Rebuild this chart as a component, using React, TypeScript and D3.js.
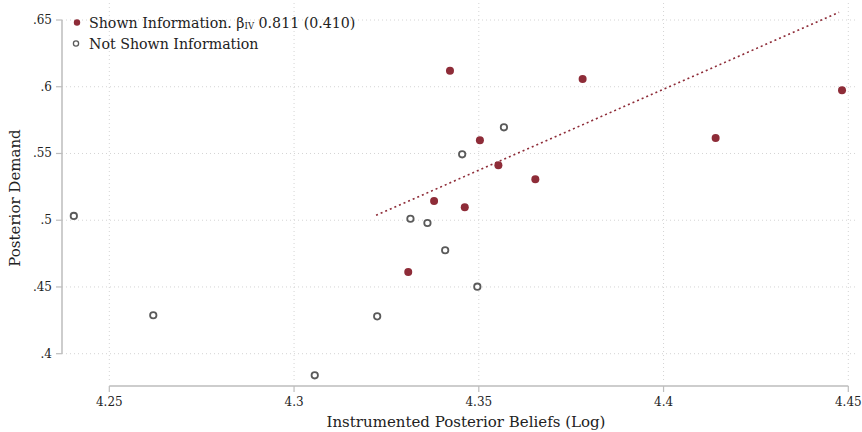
import React from 'react'
import * as d3 from 'd3'

// shown information group (x = log beliefs, y = demand)
const shownX = [4.3422, 4.3503, 4.3553, 4.3653, 4.3379, 4.3462, 4.3309, 4.3781, 4.4141, 4.4483]
const shownY = [0.612, 0.5599, 0.5411, 0.5307, 0.5144, 0.5097, 0.4612, 0.6058, 0.5616, 0.5973]

// not shown information group
const notShownX = [4.3568, 4.3455, 4.3315, 4.3361, 4.3409, 4.3496, 4.2619, 4.3225, 4.3056, 4.2404]
const notShownY = [0.5696, 0.5494, 0.5011, 0.4979, 0.4775, 0.4502, 0.4288, 0.428, 0.3838, 0.5032]

// fitted line endpoints
const fitX = [4.3222, 4.4475]
const fitY = [0.5037, 0.6558]

const xTicks = [4.25, 4.3, 4.35, 4.4, 4.45]
const yTicks = [0.4, 0.45, 0.5, 0.55, 0.6, 0.65]

const RED = '#8e2c38'
const GREY = '#5a5a5a'
const FONT = '"DejaVu Serif", "Liberation Serif", serif'

export default function App() {
  const width = 862,
    height = 432

  const x = d3.scaleLinear().domain([4.25, 4.45]).range([109.3, 848.3])
  const y = d3.scaleLinear().domain([0.4, 0.65]).range([353.7, 20])

  const plotLeft = 62,
    plotRight = 856,
    plotTop = 3,
    plotBottom = 382,
    axisY = 386

  const fmtY = (d: number) => d3.format('.2~f')(d).replace(/^0/, '')

  const line = d3
    .line<number>()
    .x(d => x(d))
    .y((d, i) => y(fitY[i]))

  return (
    <svg
      width={width}
      height={height}
      style={{ position: 'absolute', left: 0, top: 0 }}
      fontFamily={FONT}
    >
      <rect width={width} height={height} fill="#fff" />

      {/* grid */}
      {yTicks.map(d => (
        <line
          key={'gy' + d}
          x1={plotLeft}
          x2={plotRight}
          y1={y(d)}
          y2={y(d)}
          stroke="#d4d4d4"
          strokeWidth={1}
          strokeDasharray="1 3"
        />
      ))}
      {xTicks.map(d => (
        <line
          key={'gx' + d}
          x1={x(d)}
          x2={x(d)}
          y1={plotTop}
          y2={plotBottom}
          stroke="#d4d4d4"
          strokeWidth={1}
          strokeDasharray="1 3"
        />
      ))}

      {/* y axis */}
      <line x1={plotLeft} x2={plotLeft} y1={y(0.4)} y2={y(0.65)} stroke="#bdbdbd" strokeWidth={1.5} />
      {yTicks.map(d => (
        <g key={'yt' + d} transform={`translate(${plotLeft}, ${y(d)})`}>
          <line x1={-6} x2={0} stroke="#bdbdbd" strokeWidth={1.2} />
          <text x={-10} y={4} textAnchor="end" fontSize={12} fill="#222">
            {fmtY(d)}
          </text>
        </g>
      ))}

      {/* x axis */}
      <line x1={x(4.25)} x2={x(4.45)} y1={axisY} y2={axisY} stroke="#bdbdbd" strokeWidth={1.5} />
      {xTicks.map(d => (
        <g key={'xt' + d} transform={`translate(${x(d)}, ${axisY})`}>
          <line y1={0} y2={6} stroke="#bdbdbd" strokeWidth={1.2} />
          <text y={20} textAnchor="middle" fontSize={12} fill="#222">
            {d}
          </text>
        </g>
      ))}

      {/* axis titles */}
      <text x={466} y={427} textAnchor="middle" fontSize={15} fill="#222">
        Instrumented Posterior Beliefs (Log)
      </text>
      <text
        transform="translate(20, 198) rotate(-90)"
        textAnchor="middle"
        fontSize={15}
        fill="#222"
      >
        Posterior Demand
      </text>

      {/* fitted line */}
      <path
        d={line(fitX) || ''}
        fill="none"
        stroke={RED}
        strokeWidth={1.6}
        strokeDasharray="2 3"
      />

      {/* points */}
      {notShownX.map((d, i) => (
        <circle
          key={'n' + i}
          cx={x(d)}
          cy={y(notShownY[i])}
          r={3.2}
          fill="#fff"
          stroke={GREY}
          strokeWidth={1.8}
        />
      ))}
      {shownX.map((d, i) => (
        <circle key={'s' + i} cx={x(d)} cy={y(shownY[i])} r={4} fill={RED} />
      ))}

      {/* legend */}
      <circle cx={77} cy={22.5} r={3.2} fill={RED} />
      <text x={89} y={28} fontSize={14.2} fill="#222">
        Shown Information. β<tspan fontSize={8.5} dy={1}>IV</tspan>
        <tspan dy={-1}> 0.811 (0.410)</tspan>
      </text>
      <circle cx={76} cy={43.5} r={2.6} fill="#fff" stroke={GREY} strokeWidth={1.3} />
      <text x={89} y={49} fontSize={14.2} fill="#222">
        Not Shown Information
      </text>
    </svg>
  )
}
